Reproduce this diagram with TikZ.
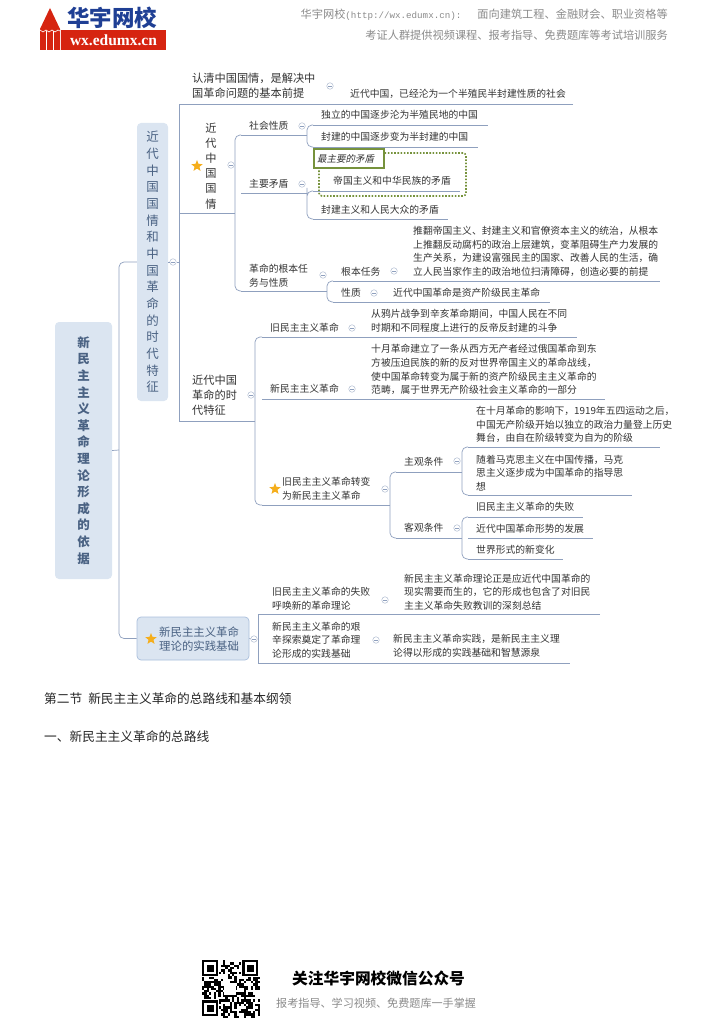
\documentclass[tikz,border=0pt]{standalone}
\usepackage{fontspec}
\setmainfont[AutoFakeSlant=0.2]{Noto Sans CJK SC}
\newfontfamily\logofont{Liberation Serif}
\newfontfamily\urlfont{Liberation Mono}
\usetikzlibrary{positioning,shapes.geometric}
\definecolor{mapline}{HTML}{8FA0BE}
\definecolor{mapfill}{HTML}{DBE5F1}
\definecolor{mapedge}{HTML}{A9BEDC}
\definecolor{mapink}{HTML}{4A6283}
\definecolor{mapgreen}{HTML}{76923C}
\definecolor{mapstar}{HTML}{F5AE1C}
\definecolor{mapred}{HTML}{D62410}
\definecolor{mapblue}{HTML}{1F3F94}
\definecolor{mapgrey}{HTML}{8A8A8A}

\begin{document}
\begin{tikzpicture}[
  x=1pt, y=-1pt,
  rootbox/.style={fill=mapfill, rounded corners=4pt, inner sep=0pt, align=center, text=mapink},
  branch/.style={draw=mapline, line width=0.7pt},
  curvy/.style={branch, rounded corners=5pt},
  txt/.style={anchor=west, inner sep=0pt, align=left, text=black!80,
              font=\fontsize{9.8}{13.7}\selectfont},
  big/.style={txt, font=\fontsize{11.2}{15}\selectfont},
  fold/.style={circle, draw=mapline!70, fill=white, line width=0.5pt, minimum size=6.5pt, inner sep=0pt,
               path picture={\draw[mapline, line width=0.5pt]
                 ([xshift=-1.8pt]path picture bounding box.center) -- ([xshift=1.8pt]path picture bounding box.center);}},
  prio/.style={star, star points=5, star point ratio=2.3, fill=mapstar, minimum size=12pt, inner sep=0pt},
  plain/.style={anchor=west, inner sep=0pt, text=black!85},
]
\useasboundingbox (0,0) rectangle (724,1024);

%% ---- header ----
\fill[mapred] (40,29) -- (50,8) -- (60,29) -- (60,50) -- (40,50) -- cycle;
\draw[white, line width=0.6pt] (40,30) -- (43,32) -- (46,30) -- (49,32) -- (52,30) -- (55,32) -- (58,30) -- (60,31);
\draw[white, line width=0.5pt] (46.5,31) -- (46.5,50) (53.5,31) -- (53.5,50);
\node[anchor=west, inner sep=0pt, text=mapblue, font=\fontsize{22.5}{22}\selectfont\bfseries] (brand) at (67,18) {华宇网校};
\node[fill=mapred, minimum width=105pt, minimum height=20pt, inner sep=0pt, text=white,
      font=\logofont\fontsize{15.5}{16}\selectfont\bfseries] (site) at (113.5,40) {wx.edumx.cn};
\node[anchor=east, inner sep=0pt, text=mapgrey, font=\fontsize{11.2}{12}\selectfont] (head1) at (668,15)
  {华宇网校{\urlfont\fontsize{9.2}{12}\selectfont(http://wx.edumx.cn):}\hspace{16pt}面向建筑工程、金融财会、职业资格等};
\node[anchor=east, inner sep=0pt, text=mapgrey, font=\fontsize{11.2}{12}\selectfont] (head2) at (668,35)
  {考证人群提供视频课程、报考指导、免费题库等考试培训服务};

%% ---- root boxes ----
\node[rootbox, minimum width=57pt, minimum height=257pt, font=\fontsize{12.5}{16.6}\selectfont\bfseries] (main) at (83.5,450.5)
  {新\\民\\主\\主\\义\\革\\命\\理\\论\\形\\成\\的\\依\\据};
\node[rootbox, minimum width=31pt, minimum height=278pt, font=\fontsize{12.5}{16.67}\selectfont] (era) at (152.5,262)
  {近\\代\\中\\国\\国\\情\\和\\中\\国\\革\\命\\的\\时\\代\\特\\征};
\node[rootbox, draw=mapedge, line width=0.7pt, minimum width=112pt, minimum height=43pt] (prac) at (193,638.5) {};
\node[prio] (pracS) at (151,639) {};
\node[big, text=mapink, font=\fontsize{11.4}{14.5}\selectfont] (pracT) at (159,639) {新民主主义革命\\理论的实践基础};

\coordinate (rootJ) at (119,450);
\draw[branch] (main.east) -- (rootJ);
\draw[curvy] (era.west) -| (rootJ) |- (prac.west);

%% ---- first branch: national conditions ----
\node[big] (prem) at (192,86) {认清中国国情，是解决中\\国革命问题的基本前提};
\node[fold] (premF) at (330,86) {};
\node[txt] (premN) at (350,94) {近代中国，已经沦为一个半殖民半封建性质的社会};
\node[big, align=center, font=\fontsize{11.2}{15.1}\selectfont, anchor=center] (qing) at (211,166) {近\\代\\中\\国\\国\\情};
\node[prio] (qingS) at (197,166) {};
\node[fold] (qingF) at (231,165) {};
\node[big, font=\fontsize{11.2}{15}\selectfont] (tez) at (192,395) {近代中国\\革命的时\\代特征};
\node[fold] (tezF) at (251,395) {};
\node[fold] (eraF) at (173,262) {};

\coordinate (premA) at (179,104); \coordinate (premB) at (573,104);
\coordinate (qingA) at (179,213); \coordinate (qingB) at (235,213);
\coordinate (tezA) at (179,421);  \coordinate (tezB) at (255,421);
\coordinate (eraJ) at (179,262);
\draw[branch] (premB) -- (premA) -- (tezA) -- (tezB);
\draw[branch] (qingA) -- (qingB);
\draw[branch] (era.east) -- (eraF) -- (eraJ);

%% ---- nature of society ----
\node[txt] (soc) at (249,126) {社会性质};
\node[fold] (socF) at (302,126) {};
\node[txt] (soc1) at (321,115) {独立的中国逐步沦为半殖民地的中国};
\node[txt] (soc2) at (321,137) {封建的中国逐步变为半封建的中国};
\coordinate (socA) at (241,135); \coordinate (socB) at (307,135);
\coordinate (soc1A) at (313,125); \coordinate (soc1B) at (488,125);
\coordinate (soc2A) at (313,147); \coordinate (soc2B) at (478,147);
\draw[branch] (socA) -- (socB);
\draw[branch] (soc1A) -- (soc1B);
\draw[branch] (soc2A) -- (soc2B);
\draw[curvy] (soc1A) -| (socB) |- (soc2A);

%% ---- main contradiction ----
\node[draw=mapgreen, dash pattern=on 1.6pt off 1.6pt, line width=1.6pt, rounded corners=3pt, minimum width=147pt, minimum height=43pt, inner sep=0pt] (dots) at (392.5,174.5) {};
\node[draw=mapgreen, fill=white, line width=2pt, minimum width=70pt, minimum height=19pt, inner sep=0pt] (tag) at (349,158.5) {};
\node[txt, font=\fontsize{9.5}{10}\selectfont\itshape] (tagT) at (317,158.5) {最主要的矛盾};
\node[txt] (maj) at (249,184) {主要矛盾};
\node[fold] (majF) at (302,184) {};
\node[txt] (maj1) at (333,181) {帝国主义和中华民族的矛盾};
\node[txt] (maj2) at (321,210) {封建主义和人民大众的矛盾};
\coordinate (majA) at (241,193); \coordinate (majB) at (307,193);
\coordinate (maj1A) at (313,191); \coordinate (maj1B) at (460,191);
\coordinate (maj2A) at (313,219); \coordinate (maj2B) at (448,219);
\draw[branch] (majA) -- (majB);
\draw[branch] (maj1A) -- (maj1B);
\draw[branch] (maj2A) -- (maj2B);
\draw[curvy] (maj1A) -| (majB) |- (maj2A);

%% ---- fundamental task ----
\node[txt] (task) at (249,275.5) {革命的根本任\\务与性质};
\node[fold] (taskF) at (323,275) {};
\node[txt] (root) at (341,272) {根本任务};
\node[fold] (rootF) at (394,271) {};
\node[txt] (rootN) at (413,251.5) {推翻帝国主义、封建主义和官僚资本主义的统治，从根本\\上推翻反动腐朽的政治上层建筑，变革阻碍生产力发展的\\生产关系，为建设富强民主的国家、改善人民的生活，确\\立人民当家作主的政治地位扫清障碍，创造必要的前提};
\node[txt] (kind) at (341,293) {性质};
\node[fold] (kindF) at (374,293) {};
\node[txt] (kindN) at (393,293) {近代中国革命是资产阶级民主革命};
\coordinate (taskA) at (241,291); \coordinate (taskB) at (327,291);
\coordinate (rootA) at (333,281); \coordinate (rootB) at (660,281);
\coordinate (kindA) at (333,302); \coordinate (kindB) at (550,302);
\draw[branch] (taskA) -- (taskB);
\draw[branch] (rootA) -- (rootB);
\draw[branch] (kindA) -- (kindB);
\draw[curvy] (socA) -| (qingB) |- (taskA);
\draw[curvy] (rootA) -| (taskB) |- (kindA);

%% ---- era features ----
\node[txt] (old) at (270,328) {旧民主主义革命};
\node[fold] (oldF) at (352,328) {};
\node[txt] (oldN) at (371,320.5) {从鸦片战争到辛亥革命期间，中国人民在不同\\时期和不同程度上进行的反帝反封建的斗争};
\node[txt] (new) at (270,389) {新民主主义革命};
\node[fold] (newF) at (352,389) {};
\node[txt] (newN) at (371,369.5) {十月革命建立了一条从西方无产者经过俄国革命到东\\方被压迫民族的新的反对世界帝国主义的革命战线，\\使中国革命转变为属于新的资产阶级民主主义革命的\\范畴，属于世界无产阶级社会主义革命的一部分};
\node[prio] (turnS) at (275,489) {};
\node[txt] (turn) at (282,489) {旧民主主义革命转变\\为新民主主义革命};
\node[fold] (turnF) at (385,489) {};
\coordinate (oldA) at (262,337); \coordinate (oldB) at (577,337);
\coordinate (newA) at (262,399); \coordinate (newB) at (605,399);
\coordinate (turnA) at (262,505); \coordinate (turnB) at (390,505);
\draw[branch] (oldA) -- (oldB);
\draw[branch] (newA) -- (newB);
\draw[branch] (turnA) -- (turnB);
\draw[curvy] (oldA) -| (tezB) |- (turnA);

%% ---- conditions of the turn ----
\node[txt] (sub) at (404,462) {主观条件};
\node[fold] (subF) at (457,461) {};
\node[txt] (sub1) at (476,424.5) {在十月革命的影响下，1919年五四运动之后，\\中国无产阶级开始以独立的政治力量登上历史\\舞台，由自在阶级转变为自为的阶级};
\node[txt] (sub2) at (476,473) {随着马克思主义在中国传播，马克\\思主义逐步成为中国革命的指导思\\想};
\node[txt] (obj) at (404,528) {客观条件};
\node[fold] (objF) at (457,528) {};
\node[txt] (obj1) at (476,507) {旧民主主义革命的失败};
\node[txt] (obj2) at (476,529) {近代中国革命形势的发展};
\node[txt] (obj3) at (476,550) {世界形式的新变化};
\coordinate (subA) at (396,472); \coordinate (subB) at (462,472);
\coordinate (sub1A) at (468,447); \coordinate (sub1B) at (660,447);
\coordinate (sub2A) at (468,495); \coordinate (sub2B) at (632,495);
\coordinate (objA) at (396,538); \coordinate (objB) at (462,538);
\coordinate (obj1A) at (468,517); \coordinate (obj1B) at (583,517);
\coordinate (obj2A) at (468,538); \coordinate (obj2B) at (593,538);
\coordinate (obj3A) at (468,559); \coordinate (obj3B) at (563,559);
\draw[branch] (subA) -- (subB);
\draw[branch] (sub1A) -- (sub1B);
\draw[branch] (sub2A) -- (sub2B);
\draw[branch] (objA) -- (objB);
\draw[branch] (obj1A) -- (obj1B);
\draw[branch] (obj2A) -- (obj2B);
\draw[branch] (obj3A) -- (obj3B);
\draw[curvy] (subA) -| (turnB) |- (objA);
\draw[curvy] (sub1A) -| (subB) |- (sub2A);
\draw[curvy] (obj1A) -| (objB) |- (obj3A);

%% ---- practical basis ----
\node[fold] (pracF) at (254,639) {};
\node[txt] (fail) at (272,599) {旧民主主义革命的失败\\呼唤新的革命理论};
\node[fold] (failF) at (385,600) {};
\node[txt] (failN) at (404,592) {新民主主义革命理论正是应近代中国革命的\\现实需要而生的，它的形成也包含了对旧民\\主主义革命失败教训的深刻总结};
\node[txt] (hard) at (272,640) {新民主主义革命的艰\\辛探索奠定了革命理\\论形成的实践基础};
\node[fold] (hardF) at (376,640) {};
\node[txt] (hardN) at (393,646) {新民主主义革命实践，是新民主主义理\\论得以形成的实践基础和智慧源泉};
\coordinate (failA) at (258.5,614); \coordinate (failB) at (600,614);
\coordinate (hardA) at (258.5,663); \coordinate (hardB) at (570,663);
\draw[branch] (prac.east) -- (pracF);
\draw[branch] (failB) -- (failA) -- (hardA) -- (hardB);

%% ---- body text ----
\node[plain, font=\fontsize{12.7}{14}\selectfont] (sec) at (44,699) {第二节\hspace{6pt}新民主主义革命的总路线和基本纲领};
\node[plain, font=\fontsize{12.7}{14}\selectfont] (subsec) at (44,737) {一、新民主主义革命的总路线};

%% ---- footer ----
\pgfmathsetseed{11}
\foreach \i in {0,...,24} {
  \foreach \j in {0,...,24} {
    \pgfmathparse{rnd<0.5 ? 1 : 0}
    \ifnum\pgfmathresult=1
      \fill[black] (202+\i*2.32,960+\j*2.32) rectangle ++(2.32,2.32);
    \fi
  }
}
\foreach \qx/\qy in {202/960,242.2/960,202/1000.2} {
  \fill[white] (\qx-1,\qy-1) rectangle ++(18.3,18.3);
  \fill[black] (\qx,\qy) rectangle ++(16.2,16.2);
  \fill[white] (\qx+2.3,\qy+2.3) rectangle ++(11.6,11.6);
  \fill[black] (\qx+4.6,\qy+4.6) rectangle ++(7,7);
}
\fill[white] (224,983) rectangle (236,995);
\node[anchor=west, inner sep=0pt, font=\fontsize{15.7}{16}\selectfont\bfseries] (wx) at (292,978) {关注华宇网校微信公众号};
\node[anchor=west, inner sep=0pt, text=mapgrey, font=\fontsize{11.1}{12}\selectfont] (wxsub) at (276,1003) {报考指导、学习视频、免费题库一手掌握};
\end{tikzpicture}
\end{document}
